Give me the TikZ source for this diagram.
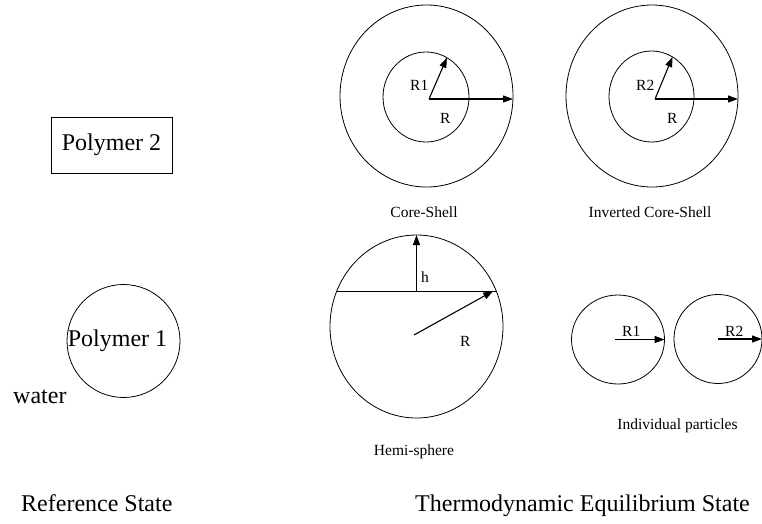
\documentclass[tikz,border=0pt]{standalone}
\usepackage{fontspec}
\setmainfont{Liberation Serif}
\usetikzlibrary{shapes.geometric,arrows.meta}

\begin{document}
\begin{tikzpicture}[x=1pt,y=-1pt,
    ball/.style={ellipse,draw,line width=0.8pt,inner sep=0pt,outer sep=0pt},
    arr/.style={-{Triangle[length=10pt,width=7pt]},line width=1.1pt},
    big/.style={font=\fontsize{24}{28}\selectfont,inner sep=0pt},
    small/.style={font=\fontsize{15.5}{18}\selectfont,inner sep=0pt}]
    \useasboundingbox (0,0) rectangle (762,523);

    \node[draw,line width=0.8pt,minimum width=121,minimum height=56,big] (poly2) at (111.5,145) {Polymer 2};
    \node[ball,minimum width=113,minimum height=113] (poly1) at (123.5,341) {};
    \node[big] (poly1text) at ([xshift=-6pt]poly1.center) {Polymer 1};
    \node[big,anchor=base west] (water) at (13,403) {water};
    \node[big,anchor=base west] (refstate) at (21,511) {Reference State};

    \node[ball,minimum width=173,minimum height=182] (cs) at (426.5,96) {};
    \node[ball,minimum width=86,minimum height=90] (csin) at (426,97) {};
    \coordinate (cso) at (429,99);
    \draw[arr] (cso) -- (csin.62);
    \draw[arr] (cso) -- (cs.east |- cso);
    \node[small,anchor=base west] at (410,90) {R1};
    \node[small,anchor=base west] at (440,123) {R};
    \node[small,anchor=base] at (424,217) {Core-Shell};

    \node[ball,minimum width=172,minimum height=182] (ics) at (652,96) {};
    \node[ball,minimum width=85,minimum height=91] (icsin) at (651.5,96.5) {};
    \coordinate (icso) at (655,99);
    \draw[arr] (icso) -- (icsin.62);
    \draw[arr] (icso) -- (ics.east |- icso);
    \node[small,anchor=base west] at (636,90) {R2};
    \node[small,anchor=base west] at (667,123) {R};
    \node[small,anchor=base] at (650,217) {Inverted Core-Shell};

    \node[ball,minimum width=173,minimum height=183] (hs) at (416.5,326.5) {};
    \coordinate (hso) at (414,335);
    \draw[line width=0.8pt] (hs.156) -- (hs.24);
    \draw[arr] (hs.north |- hs.24) -- (hs.north);
    \draw[arr] (hso) -- ([xshift=-3pt]hs.24);
    \node[small,anchor=base west] at (421,282) {h};
    \node[small,anchor=base west] at (460,346) {R};
    \node[small,anchor=base] at (414,455) {Hemi-sphere};

    \node[ball,minimum width=93,minimum height=89] (part1) at (618,339.5) {};
    \node[ball,minimum width=88,minimum height=89] (part2) at (718,339) {};
    \draw[arr] ([xshift=-3pt]part1.center) -- (part1.east);
    \draw[arr] (part2.center) -- (part2.east);
    \node[small,anchor=base west] at (622,336) {R1};
    \node[small,anchor=base west] at (725,336) {R2};
    \node[small,anchor=base] at (677.5,429) {Individual particles};

    \node[big,anchor=base west] (eqstate) at (415,511) {Thermodynamic Equilibrium State};
\end{tikzpicture}
\end{document}
